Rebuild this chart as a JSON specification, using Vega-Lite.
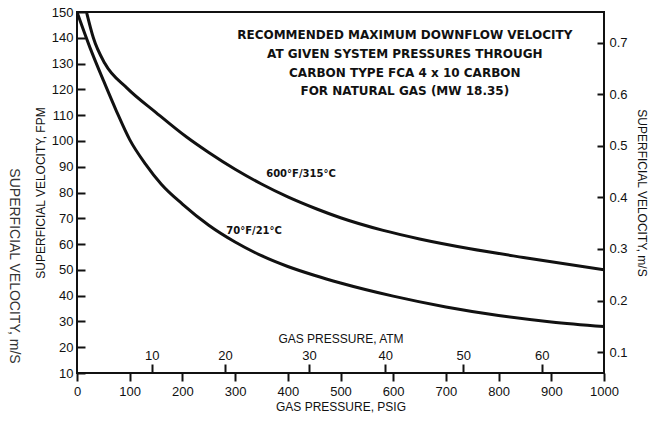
{
  "$schema": "https://vega.github.io/schema/vega-lite/v6.json",
  "width": 527,
  "height": 361,
  "autosize": {"type": "none"},
  "padding": {"left": 77, "top": 12, "right": 47, "bottom": 49},
  "background": "#ffffff",
  "config": {
    "view": {"stroke": "#111111", "strokeWidth": 2},
    "axis": {
      "domain": false,
      "grid": false,
      "labelFont": "Liberation Sans",
      "labelFontSize": 13,
      "labelColor": "#111111",
      "labelFlush": false,
      "labelOverlap": false,
      "titleFont": "Liberation Sans",
      "titleFontSize": 12,
      "titleFontWeight": "normal",
      "titleColor": "#111111",
      "tickColor": "#111111",
      "tickWidth": 2
    }
  },
  "resolve": {"axis": {"x": "independent", "y": "independent"}},
  "layer": [
    {
      "data": {
        "values": [
          {"series": "70F", "psig": 0, "fpm": 150},
          {"series": "70F", "psig": 25, "fpm": 136},
          {"series": "70F", "psig": 50, "fpm": 123.5},
          {"series": "70F", "psig": 75, "fpm": 111.5},
          {"series": "70F", "psig": 100, "fpm": 100.5},
          {"series": "70F", "psig": 130, "fpm": 91},
          {"series": "70F", "psig": 160, "fpm": 83.2},
          {"series": "70F", "psig": 200, "fpm": 75.5},
          {"series": "70F", "psig": 250, "fpm": 67.3},
          {"series": "70F", "psig": 300, "fpm": 60.8},
          {"series": "70F", "psig": 350, "fpm": 55.5},
          {"series": "70F", "psig": 400, "fpm": 51.3},
          {"series": "70F", "psig": 450, "fpm": 47.9},
          {"series": "70F", "psig": 500, "fpm": 44.9},
          {"series": "70F", "psig": 600, "fpm": 39.8},
          {"series": "70F", "psig": 700, "fpm": 35.6},
          {"series": "70F", "psig": 800, "fpm": 32.3},
          {"series": "70F", "psig": 900, "fpm": 29.8},
          {"series": "70F", "psig": 1000, "fpm": 28},
          {"series": "600F", "psig": 18, "fpm": 150},
          {"series": "600F", "psig": 31, "fpm": 140},
          {"series": "600F", "psig": 53, "fpm": 130},
          {"series": "600F", "psig": 95, "fpm": 120.5},
          {"series": "600F", "psig": 150, "fpm": 111},
          {"series": "600F", "psig": 208, "fpm": 101.5},
          {"series": "600F", "psig": 250, "fpm": 95.5},
          {"series": "600F", "psig": 300, "fpm": 89},
          {"series": "600F", "psig": 350, "fpm": 83.3},
          {"series": "600F", "psig": 400, "fpm": 78.3},
          {"series": "600F", "psig": 455, "fpm": 73.6},
          {"series": "600F", "psig": 500, "fpm": 70.2},
          {"series": "600F", "psig": 581, "fpm": 65.3},
          {"series": "600F", "psig": 650, "fpm": 62},
          {"series": "600F", "psig": 746, "fpm": 58.2},
          {"series": "600F", "psig": 847, "fpm": 54.8},
          {"series": "600F", "psig": 1000, "fpm": 50}
        ]
      },
      "mark": {"type": "line", "interpolate": "monotone", "stroke": "#111111", "strokeWidth": 3, "clip": true},
      "encoding": {
        "x": {
          "field": "psig", "type": "quantitative",
          "scale": {"domain": [0, 1000], "nice": false, "zero": false},
          "axis": {"orient": "bottom", "values": [0, 100, 200, 300, 400, 500, 600, 700, 800, 900, 1000], "format": "d", "tickSize": 8, "labelPadding": 4, "title": "GAS PRESSURE, PSIG", "titlePadding": 3}
        },
        "y": {
          "field": "fpm", "type": "quantitative",
          "scale": {"domain": [10, 150], "nice": false, "zero": false},
          "axis": {"orient": "right", "offset": -527, "values": [10, 20, 30, 40, 50, 60, 70, 80, 90, 100, 110, 120, 130, 140, 150], "tickSize": 8, "labelPadding": -12, "labelAlign": "right", "title": "SUPERFICIAL VELOCITY, FPM", "titleX": -37, "titleAngle": 270, "titleBaseline": "middle", "titleAlign": "center"}
        },
        "detail": {"field": "series"}
      }
    },
    {
      "data": {
        "values": [
          {"label": "600°F/315°C", "psig": 425, "fpm": 87.2},
          {"label": "70°F/21°C", "psig": 336, "fpm": 65.1}
        ]
      },
      "mark": {"type": "text", "font": "DejaVu Sans", "fontWeight": "bold", "fontSize": 10, "color": "#111111", "align": "center", "baseline": "middle"},
      "encoding": {
        "x": {
          "field": "psig", "type": "quantitative",
          "scale": {"domain": [0, 1000], "nice": false, "zero": false},
          "axis": {"orient": "top", "offset": -361, "values": [142, 281, 440, 585, 733, 882], "labelExpr": "format(round(datum.value/147)*10,'d')", "tickSize": 9, "labelPadding": 2, "title": "GAS PRESSURE, ATM", "titlePadding": 4}
        },
        "y": {
          "field": "fpm", "type": "quantitative",
          "scale": {"domain": [10, 150], "nice": false, "zero": false},
          "axis": {"orient": "left", "offset": -527, "values": [18.1, 38.1, 58.1, 78.1, 98.1, 118.1, 138.1], "labelExpr": "format((datum.value-18.1)/200+0.1,'.1f')", "tickSize": 7, "labelPadding": -12, "labelAlign": "left", "title": "SUPERFICIAL VELOCITY, m/S", "titleX": 37, "titleAngle": 90, "titleBaseline": "middle", "titleAlign": "center"}
        },
        "text": {"field": "label"}
      }
    },
    {
      "data": {
        "values": [
          {"t": "RECOMMENDED MAXIMUM DOWNFLOW VELOCITY\nAT GIVEN SYSTEM PRESSURES THROUGH\nCARBON TYPE FCA 4 x 10 CARBON\nFOR NATURAL GAS (MW 18.35)", "psig": 622, "fpm": 143.1}
        ]
      },
      "mark": {"type": "text", "font": "DejaVu Sans", "fontWeight": "bold", "fontSize": 12, "color": "#111111", "align": "center", "baseline": "top", "lineBreak": "\n", "lineHeight": 18.9},
      "encoding": {
        "x": {"field": "psig", "type": "quantitative", "scale": {"domain": [0, 1000], "nice": false, "zero": false}, "axis": null},
        "y": {"field": "fpm", "type": "quantitative", "scale": {"domain": [10, 150], "nice": false, "zero": false}, "axis": null},
        "text": {"field": "t"}
      }
    },
    {
      "data": {
        "values": [
          {"t": "SUPERFICIAL VELOCITY, m/S", "psig": -120, "fpm": 51.5}
        ]
      },
      "mark": {"type": "text", "font": "Liberation Sans", "fontSize": 14, "color": "#333333", "align": "center", "baseline": "middle", "angle": 90},
      "encoding": {
        "x": {"field": "psig", "type": "quantitative", "scale": {"domain": [0, 1000], "nice": false, "zero": false}, "axis": null},
        "y": {"field": "fpm", "type": "quantitative", "scale": {"domain": [10, 150], "nice": false, "zero": false}, "axis": null},
        "text": {"field": "t"}
      }
    }
  ]
}
